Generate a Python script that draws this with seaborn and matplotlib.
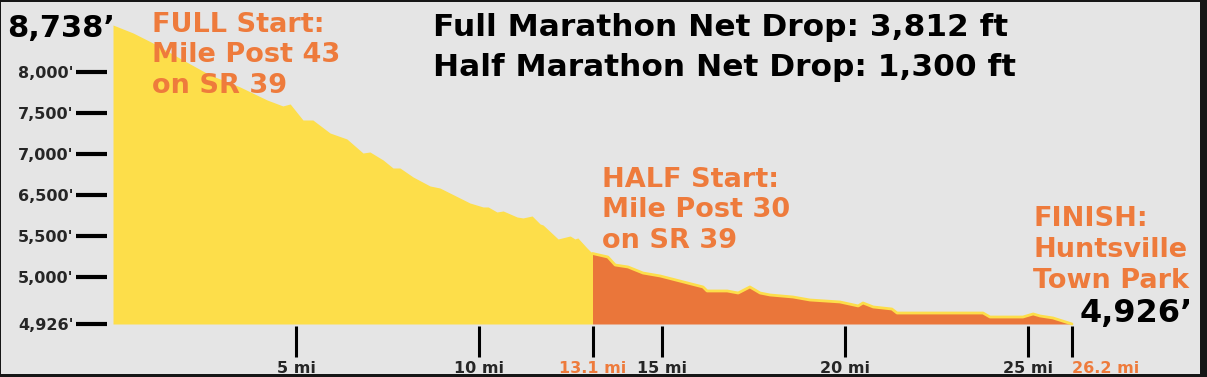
import numpy as np
import pandas as pd
import matplotlib
matplotlib.use('Agg')
import matplotlib.pyplot as plt
import seaborn as sns
from matplotlib.patches import Rectangle

# --- course profile (miles, feet) ---
miles = [0.0, 0.55, 1.09, 1.91, 2.65, 3.47, 4.21, 4.64, 4.84, 5.19,
         5.46, 5.93, 6.39, 6.83, 7.02, 7.38, 7.65, 7.84, 8.20, 8.66,
         8.93, 9.75, 10.11, 10.25, 10.49, 10.66, 11.04, 11.20, 11.45, 11.67,
         11.75, 12.16, 12.49, 12.62, 12.70, 12.95, 13.1, 13.52, 13.72, 14.07,
         14.48, 14.95, 16.12, 16.23, 16.78, 17.08, 17.40, 17.68, 17.95, 18.58,
         19.04, 19.86, 20.36, 20.49, 20.77, 21.28, 21.42, 23.77, 23.96, 24.86,
         25.14, 25.33, 25.68, 26.2]
elev = [8738, 8636, 8509, 8292, 8101, 7948, 7782, 7706, 7731, 7527,
        7527, 7361, 7285, 7106, 7119, 7017, 6915, 6915, 6800, 6686,
        6660, 6469, 6418, 6418, 6354, 6367, 6290, 6278, 6303, 6201,
        6188, 6010, 6048, 6010, 6023, 5895, 5825, 5780, 5678, 5653,
        5576, 5538, 5398, 5347, 5347, 5321, 5398, 5321, 5296, 5270,
        5232, 5207, 5156, 5194, 5143, 5117, 5066, 5066, 5015, 5015,
        5054, 5028, 5003, 4926]
half_mile = 13.1

xtick_pos = [5, 10, 13.1, 15, 20, 25, 26.2]
xtick_labels = ['5 mi', '10 mi', '13.1 mi', '15 mi', '20 mi', '25 mi', '26.2 mi']
xtick_orange = ['13.1 mi', '26.2 mi']
ytick_pos = [4926, 5525, 6048, 6571, 7094, 7617, 8140]
ytick_labels = ["4,926'", "5,000'", "5,500'", "6,500'", "7,000'", "7,500'", "8,000'"]

title_lines = ['Full Marathon Net Drop: 3,812 ft', 'Half Marathon Net Drop: 1,300 ft']
full_note = ['FULL Start:', 'Mile Post 43', 'on SR 39']
half_note = ['HALF Start:', 'Mile Post 30', 'on SR 39']
finish_note = ['FINISH:', 'Huntsville', 'Town Park']
top_label = '8,738\u2019'
end_label = '4,926\u2019'

BG = '#E5E5E5'
YELLOW = '#FDDE4A'
ORANGE = '#EA763A'
TXT_ORANGE = '#EE7B3C'

sns.set_theme(style='white')
plt.rcParams['font.family'] = ['DejaVu Sans']
plt.rcParams['font.weight'] = 'bold'

df = pd.DataFrame({'mile': miles, 'elev': elev})
first = df[df.mile <= half_mile]
second = df[df.mile >= half_mile]
base = df.elev.min()

W, H = 1207, 377
fig = plt.figure(figsize=(W / 100, H / 100), dpi=100, facecolor='#161616')
fig.patches.append(Rectangle((1 / W, 3 / H), 1199 / W, 372 / H, transform=fig.transFigure,
                             facecolor=BG, edgecolor='none', zorder=-5))

def px(x, y):
    return x / W, 1 - y / H

ax = fig.add_axes([113 / W, 53 / H, 959 / W, 299 / H])
ax.set_facecolor('none')
ax.set_zorder(2)

ax.fill_between(first.mile, first.elev, base, color=YELLOW, lw=0)
ax.fill_between(second.mile, second.elev, base, color=ORANGE, lw=0)
sns.lineplot(data=second, x='mile', y='elev', color=YELLOW, lw=2, ax=ax, clip_on=False)

ax.set_xlim(0, 26.2)
ax.set_ylim(base, df.elev.max())
for s in ax.spines.values():
    s.set_visible(False)
ax.spines['bottom'].set_position(('outward', 1.5))
ax.spines['left'].set_position(('outward', 4.5))

ax.set_xticks(xtick_pos)
ax.set_xticklabels(xtick_labels)
ax.set_yticks(ytick_pos)
ax.set_yticklabels(ytick_labels)
ax.tick_params(axis='x', bottom=True, direction='out', length=22, width=2.2, color='black',
               pad=3, labelsize=11.5)
ax.tick_params(axis='y', left=True, direction='out', length=22, width=3, color='black',
               pad=2, labelsize=11.5)
for lab in ax.get_xticklabels():
    lab.set_fontweight('bold')
    if lab.get_text() in xtick_orange:
        lab.set_color(TXT_ORANGE)
    if lab.get_text() == xtick_labels[-1]:
        lab.set_horizontalalignment('left')
for lab in ax.get_yticklabels():
    lab.set_fontweight('bold')
ax.set_xlabel('')
ax.set_ylabel('')

# big elevation labels
fig.text(*px(7, 37), top_label, fontsize=22, fontweight='bold', color='black', va='baseline')
fig.text(*px(1080, 322), end_label, fontsize=23, fontweight='bold', color='black',
         va='baseline')

# headline
for i, line in enumerate(title_lines):
    fig.text(*px(433, 36 + 40 * i), line, fontsize=22.5, fontweight='bold', color='black',
             va='baseline')

# orange notes
for (x0, y0, step), note in zip([(152, 32, 30.5), (602, 187, 30.5), (1033, 226, 31)],
                                [full_note, half_note, finish_note]):
    for i, line in enumerate(note):
        fig.text(*px(x0, y0 + step * i), line, fontsize=19.5, fontweight='bold',
                 color=TXT_ORANGE, va='baseline')

fig.savefig('out.png', dpi=100, facecolor=fig.get_facecolor())
